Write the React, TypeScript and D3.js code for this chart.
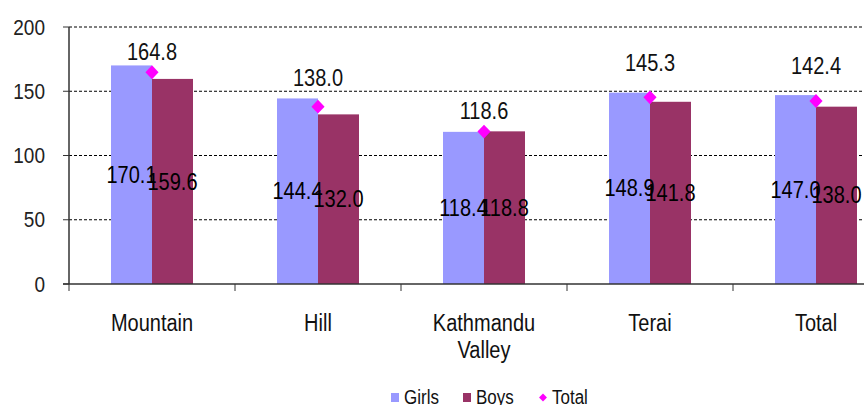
import * as React from "react"
import * as d3 from "d3"

const categories = ["Mountain", "Hill", "Kathmandu Valley", "Terai", "Total"]
const girls = [170.1, 144.4, 118.4, 148.9, 147.0]
const boys = [159.6, 132.0, 118.8, 141.8, 138.0]
const total = [164.8, 138.0, 118.6, 145.3, 142.4]
const yTicks = [0, 50, 100, 150, 200]
const seriesNames = ["Girls", "Boys"]

const W = 864
const H = 405
const FONT = "'Liberation Sans', Arial, sans-serif"
const GIRLS_COLOR = "#9999ff"
const BOYS_COLOR = "#993366"
const TOTAL_COLOR = "#ff00ff"
const STRETCH = 1.15

// how far each total label sits above its marker (the original placed them unevenly)
const totalLabelLift = [20, 29, 21, 34, 35]

function T({
  x,
  y,
  size,
  anchor = "middle",
  fill = "#111",
  children,
}: {
  x: number
  y: number
  size: number
  anchor?: string
  fill?: string
  children: React.ReactNode
}) {
  return (
    <text
      transform={`translate(${x},${y}) scale(1,${STRETCH})`}
      dy="0.35em"
      textAnchor={anchor}
      fontSize={size}
      fill={fill}
    >
      {children}
    </text>
  )
}

export default function App(): React.JSX.Element {
  const left = 69
  const bandW = 166
  const x = d3
    .scaleBand()
    .domain(categories)
    .range([left, left + bandW * categories.length])
  const y = d3.scaleLinear().domain([0, 200]).range([284, 27])
  const sub = d3.scaleBand().domain(seriesNames).range([-41, 41])

  const diamond = d3.symbol().type(d3.symbolDiamond2).size(110)()

  const series = [girls, boys]
  const colors = [GIRLS_COLOR, BOYS_COLOR]
  const mid = (c: string) => (x(c) as number) + x.bandwidth() / 2

  return (
    <svg
      width={W}
      height={H}
      style={{ position: "absolute", left: 0, top: 0, background: "#fff" }}
      fontFamily={FONT}
    >
      {/* gridlines */}
      {yTicks
        .filter((t) => t > 0)
        .map((t) => (
          <line
            key={t}
            x1={left}
            x2={W}
            y1={y(t)}
            y2={y(t)}
            stroke="#000"
            strokeWidth={1}
            strokeDasharray="3,2"
          />
        ))}

      {/* bars */}
      {categories.map((c, i) =>
        series.map((s, j) => (
          <rect
            key={c + j}
            x={mid(c) + (sub(seriesNames[j]) as number)}
            y={y(s[i])}
            width={sub.bandwidth()}
            height={y(0) - y(s[i])}
            fill={colors[j]}
          />
        ))
      )}

      {/* bar labels */}
      {categories.map((c, i) =>
        series.map((s, j) => (
          <T
            key={"l" + c + j}
            x={mid(c) + (sub(seriesNames[j]) as number) + sub.bandwidth() / 2}
            y={(y(s[i]) + y(0)) / 2}
            size={20}
            fill="#000"
          >
            {s[i].toFixed(1)}
          </T>
        ))
      )}

      {/* axes */}
      <line x1={left} x2={left} y1={y(200)} y2={y(0)} stroke="#333" strokeWidth={1.5} />
      <line x1={left - 6} x2={W} y1={y(0)} y2={y(0)} stroke="#333" strokeWidth={1.5} />
      {yTicks.map((t) => (
        <g key={"yt" + t}>
          <line x1={left - 6} x2={left} y1={y(t)} y2={y(t)} stroke="#333" />
          <T x={45} y={y(t)} size={19} anchor="end" fill="#222">
            {t}
          </T>
        </g>
      ))}
      {categories.map((c) => (
        <line
          key={"xt" + c}
          x1={x(c) as number}
          x2={x(c) as number}
          y1={y(0)}
          y2={y(0) + 7}
          stroke="#333"
        />
      ))}
      {categories.map((c) => {
        const words = c === "Kathmandu Valley" ? ["Kathmandu", "Valley"] : [c]
        return words.map((w, k) => (
          <T key={"c" + c + k} x={mid(c)} y={323 + k * 27} size={20}>
            {w}
          </T>
        ))
      })}

      {/* total diamonds */}
      {categories.map((c, i) => (
        <g key={"t" + c}>
          <path
            d={diamond as string}
            transform={`translate(${mid(c)},${y(total[i])}) scale(1,1.05)`}
            fill={TOTAL_COLOR}
          />
          <T x={mid(c)} y={y(total[i]) - totalLabelLift[i]} size={20}>
            {total[i].toFixed(1)}
          </T>
        </g>
      ))}

      {/* legend */}
      <g>
        <rect x={391} y={393} width={8} height={9} fill={GIRLS_COLOR} />
        <T x={404} y={397} size={17} anchor="start">Girls</T>
        <rect x={463} y={393} width={8} height={9} fill={BOYS_COLOR} />
        <T x={476} y={397} size={17} anchor="start">Boys</T>
        <path
          d={d3.symbol().type(d3.symbolDiamond2).size(40)() as string}
          transform="translate(543,397.5)"
          fill={TOTAL_COLOR}
        />
        <T x={552} y={397} size={17} anchor="start">Total</T>
      </g>
    </svg>
  )
}
